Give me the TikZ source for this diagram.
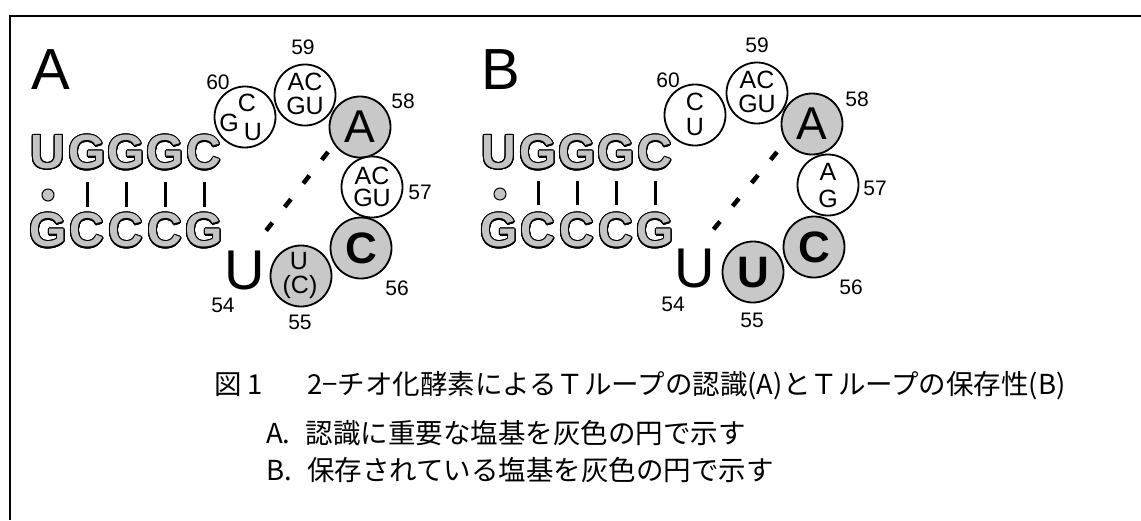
\documentclass[tikz,border=0pt]{standalone}
\usepackage{fontspec}
\setmainfont{Liberation Sans}
\newfontfamily\jp{Noto Sans CJK JP}
\usepackage{contour}
\contourlength{1.1pt}
\contournumber{24}
\definecolor{cgray}{RGB}{200,200,200}
\definecolor{sgray}{RGB}{196,196,196}
\tikzset{
  ring/.style={circle, draw=black, line width=1.8pt, minimum size=61pt, inner sep=0pt},
  wring/.style={ring, fill=white},
  gring/.style={ring, fill=cgray},
  num/.style={inner sep=0pt, font=\fontsize{21}{21}\selectfont},
  small/.style={inner sep=0pt, font=\fontsize{25}{25}\selectfont},
  stemlet/.style={inner sep=0pt, text=sgray, font=\fontsize{48}{48}\selectfont\bfseries},
  bigA/.style={inner sep=0pt, font=\fontsize{46}{46}\selectfont},
  bigC/.style={inner sep=0pt, font=\fontsize{44}{44}\selectfont\bfseries},
  loopU/.style={inner sep=0pt, font=\fontsize{56}{56}\selectfont},
  panel/.style={inner sep=0pt, font=\fontsize{58}{58}\selectfont},
  bond/.style={line width=3pt},
  gudot/.style={circle, draw=black, fill=sgray, line width=1pt, minimum size=12pt, inner sep=0pt},
  tert/.style={line width=4.5pt, dash pattern=on 10pt off 20pt},
  captext/.style={inner sep=0pt, anchor=west, font=\jp\fontsize{27.5}{28}\selectfont},
}
\begin{document}
\begin{tikzpicture}[x=1pt,y=-1pt]
\useasboundingbox (0,0) rectangle (1141,520);
\draw[line width=2pt] (10,520) -- (10,16) -- (1141,16);

% ---------------- Panel A ----------------
\node[panel] (labA) at (51,70) {A};
\foreach \i/\l in {0/U,1/G,2/G,3/G,4/C} {
  \node[stemlet] (aT\i) at ({48+39*\i},153) {\contour{black}{\l}};
}
\foreach \i/\l in {0/G,1/C,2/C,3/C,4/G} {
  \node[stemlet] (aB\i) at ({48+39*\i},231) {\contour{black}{\l}};
}
\node[gudot] (aDot) at (48,195) {};
\foreach \i in {1,2,3,4} {
  \coordinate (aBt\i) at ({48+39*\i},182);
  \coordinate (aBb\i) at ({48+39*\i},207);
  \draw[bond] (aBt\i) -- (aBb\i);
}
\node[loopU] (aU54) at (245,271) {U};
\node[num] (aN54) at (223,305) {54};

\node[wring] (a59) at (305,95) {};
\node[wring] (a60) at (245,117) {};
\node[wring] (a57) at (372,187) {};
\node[gring] (a58) at (360,127) {};
\node[gring] (a56) at (361,248) {};
\node[gring] (a55) at (301,276) {};

\node[small] (a55t) at (299,261) {U};
\node[small] (a55b) at (300,287) {(C)};
\node[num] (aN55) at (300,322) {55};
\node[bigC] (a56t) at (361,248) {C};
\node[num] (aN56) at (397,288) {56};
\node[small] (a57t) at (372,176) {AC};
\node[small] (a57b) at (372,198) {GU};
\node[num] (aN57) at (420,192) {57};
\node[bigA] (a58t) at (360,127) {A};
\node[num] (aN58) at (403,101) {58};
\node[small] (a59t) at (305,82) {AC};
\node[small] (a59b) at (305,106) {GU};
\node[num] (aN59) at (303,47) {59};
\node[small] (a60c) at (247,103) {C};
\node[small] (a60g) at (229,123) {G};
\node[small] (a60u) at (253,132) {U};
\node[num] (aN60) at (218,82) {60};

\coordinate (aD1) at (328,152);
\coordinate (aD2) at (265,232);
\draw[tert] (aD1) -- (aD2);

% ---------------- Panel B ----------------
\node[panel] (labB) at (501,70) {B};
\foreach \i/\l in {0/U,1/G,2/G,3/G,4/C} {
  \node[stemlet] (bT\i) at ({499+39*\i},153) {\contour{black}{\l}};
}
\foreach \i/\l in {0/G,1/C,2/C,3/C,4/G} {
  \node[stemlet] (bB\i) at ({499+39*\i},231) {\contour{black}{\l}};
}
\node[gudot] (bDot) at (500,194) {};
\foreach \i in {1,2,3,4} {
  \coordinate (bBt\i) at ({499+39*\i},181);
  \coordinate (bBb\i) at ({499+39*\i},205);
  \draw[bond] (bBt\i) -- (bBb\i);
}
\node[loopU] (bU54) at (695,269) {U};
\node[num] (bN54) at (673,304) {54};

\node[wring] (b59) at (757,93) {};
\node[wring] (b60) at (695,115) {};
\node[wring] (b57) at (828,185) {};
\node[gring] (b58) at (812,124) {};
\node[gring] (b56) at (814,247) {};
\node[gring] (b55) at (753,272) {};

\node[bigC] (b55t) at (753,273) {U};
\node[num] (bN55) at (752,320) {55};
\node[bigC] (b56t) at (814,247) {C};
\node[num] (bN56) at (851,287) {56};
\node[small] (b57t) at (828,172) {A};
\node[small] (b57b) at (828,199) {G};
\node[num] (bN57) at (875,188) {57};
\node[bigA] (b58t) at (812,124) {A};
\node[num] (bN58) at (857,99) {58};
\node[small] (b59t) at (757,80) {AC};
\node[small] (b59b) at (757,104) {GU};
\node[num] (bN59) at (757,45) {59};
\node[small] (b60c) at (695,102) {C};
\node[small] (b60u) at (695,127) {U};
\node[num] (bN60) at (668,80) {60};

\coordinate (bD1) at (777,152);
\coordinate (bD2) at (713,230);
\draw[tert] (bD1) -- (bD2);

% ---------------- Caption ----------------
\node[captext] (cap1) at (214,386) {図 1\hspace{1.6em}2−チオ化酵素によるＴループの認識(A)とＴループの保存性(B)};
\node[captext] (cap2) at (266,433) {A.\hspace{0.55em}認識に重要な塩基を灰色の円で示す};
\node[captext] (cap3) at (266,470) {B.\hspace{0.55em}保存されている塩基を灰色の円で示す};
\end{tikzpicture}
\end{document}
